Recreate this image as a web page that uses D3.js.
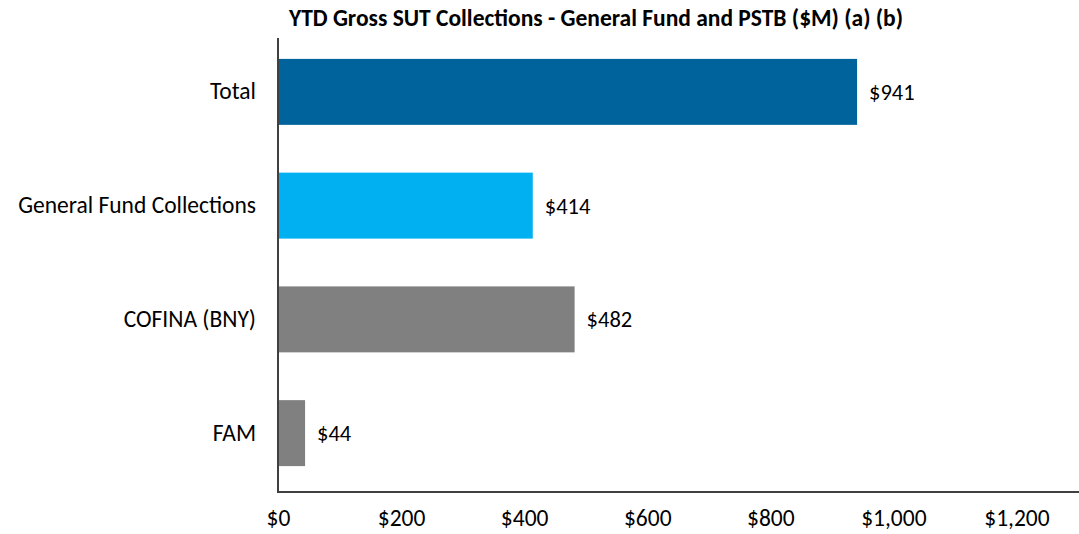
<!DOCTYPE html>
<html>
<head>
<meta charset="utf-8">
<script src="https://cdn.jsdelivr.net/npm/d3@7"></script>
<style>
  body { margin: 0; background: #fff; }
  svg text { font-family: Carlito, Lato, "Open Sans", sans-serif; fill: #000; }
  .axis path, .axis line { stroke: #404040; stroke-width: 2; }
</style>
</head>
<body>
<div id="chart"></div>
<script>
// data
var categories = ["Total", "General Fund Collections", "COFINA (BNY)", "FAM"];
var values = [941, 414, 482, 44];
var barColors = ["#00639c", "#00b0f0", "#808080", "#808080"];
var xTicks = [0, 200, 400, 600, 800, 1000, 1200];
var title = "YTD Gross SUT Collections - General Fund and PSTB ($M) (a) (b)";

var width = 1079, height = 534,
    margins = {top: 35, left: 278, right: 1, bottom: 44};

var svg = d3.select("#chart").append("svg")
  .attr("width", width)
  .attr("height", height);

var x = d3.scaleLinear()
  .domain([0, 1300])
  .range([margins.left, width - margins.right]);

var y = d3.scaleBand()
  .domain(categories)
  .range([margins.top, height - margins.bottom])
  .paddingInner(0.42)
  .paddingOuter(0.21);

var axisY = height - 42;

// title
svg.append("text")
  .attr("x", 596)
  .attr("y", 26)
  .attr("text-anchor", "middle")
  .style("font-size", "23.5px")
  .style("font-weight", "bold")
  .text(title);

// bars
svg.selectAll("rect.bar")
  .data(values)
  .enter()
  .append("rect")
  .attr("class", "bar")
  .attr("x", x(0) + 1)
  .attr("y", function (d, i) { return y(categories[i]); })
  .attr("width", function (d) { return x(d) - x(0) - 1; })
  .attr("height", y.bandwidth())
  .style("fill", function (d, i) { return barColors[i]; });

// value labels
svg.selectAll("text.value")
  .data(values)
  .enter()
  .append("text")
  .attr("class", "value")
  .attr("x", function (d) { return x(d) + 12; })
  .attr("y", function (d, i) { return y(categories[i]) + y.bandwidth() / 2; })
  .attr("dy", "0.35em")
  .style("font-size", "22.5px")
  .text(function (d) { return "$" + d3.format(",")(d); });

// x axis
var xAxis = d3.axisBottom(x)
  .tickValues(xTicks)
  .tickSize(0)
  .tickPadding(17)
  .tickFormat(function (d) { return "$" + d3.format(",")(d); });

var xg = svg.append("g")
  .attr("class", "x axis")
  .attr("transform", "translate(0," + axisY + ")")
  .call(xAxis);
xg.select(".domain").remove();
xg.append("line")
  .attr("x1", x(0) - 1).attr("x2", width)
  .attr("y1", 0).attr("y2", 0);
xg.selectAll("text").style("font-size", "23.5px").attr("fill", "#000");

// y axis
var yAxis = d3.axisLeft(y)
  .tickSize(0)
  .tickPadding(22);

var yg = svg.append("g")
  .attr("class", "y axis")
  .attr("transform", "translate(" + x(0) + ",0)")
  .call(yAxis);
yg.select(".domain").remove();
yg.append("line")
  .attr("x1", 0).attr("x2", 0)
  .attr("y1", 38).attr("y2", axisY);
yg.selectAll("text").style("font-size", "23.5px").attr("fill", "#000");
</script>
</body>
</html>
